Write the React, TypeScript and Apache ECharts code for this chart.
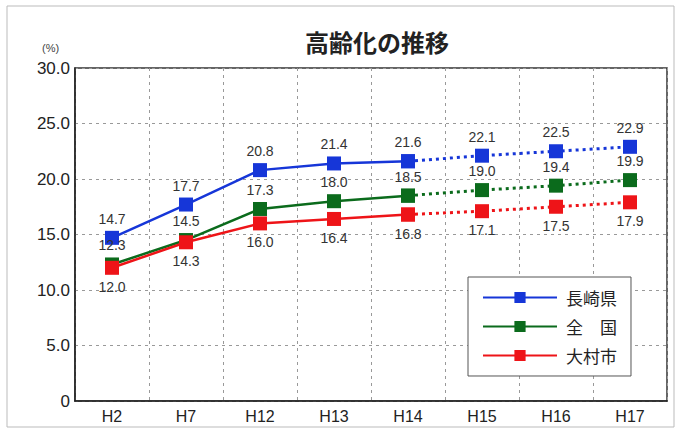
import React, { useEffect, useRef } from "react";
import * as echarts from "echarts";

const categories = ["H2", "H7", "H12", "H13", "H14", "H15", "H16", "H17"];
const nagasaki = [14.7, 17.7, 20.8, 21.4, 21.6, 22.1, 22.5, 22.9];
const zenkoku = [12.3, 14.5, 17.3, 18.0, 18.5, 19.0, 19.4, 19.9];
const omura = [12.0, 14.3, 16.0, 16.4, 16.8, 17.1, 17.5, 17.9];
const yTicks = [0, 5, 10, 15, 20, 25, 30];
const lastActual = 4; // H14

const seriesDefs = [
  { name: "長崎県", data: nagasaki, color: "#1636d8", labelPos: "top" },
  { name: "全　国", data: zenkoku, color: "#0b6b1c", labelPos: "top" },
  { name: "大村市", data: omura, color: "#ee1418", labelPos: "bottom" },
];

export default function App() {
  const ref = useRef<HTMLDivElement>(null);
  useEffect(() => {
    document.body.style.margin = "0";
    const chart = echarts.init(ref.current!, null, { renderer: "svg" });
    const series: any[] = [];
    seriesDefs.forEach((s) => {
      const solid = s.data.map((v, i) => (i <= lastActual ? v : "-"));
      const dotted = s.data.map((v, i) => (i >= lastActual ? v : "-"));
      const label = {
        show: true,
        position: s.labelPos,
        distance: 5,
        color: "#333",
        fontSize: 14,
        fontFamily: "Liberation Sans, Arial, sans-serif",
        formatter: (p: any) => (typeof p.value === "number" ? p.value.toFixed(1) : ""),
      };
      series.push({
        name: s.name,
        type: "line",
        data: solid,
        symbol: "rect",
        symbolSize: 14,
        itemStyle: { color: s.color },
        lineStyle: { color: s.color, width: 2.5 },
        label,
        z: 3,
      });
      series.push({
        name: s.name,
        type: "line",
        data: dotted,
        symbol: "rect",
        symbolSize: 14,
        itemStyle: { color: s.color },
        lineStyle: { color: s.color, width: 3, type: [3, 4] },
        label: {
          ...label,
          formatter: (p: any) =>
            p.dataIndex > lastActual && typeof p.value === "number" ? p.value.toFixed(1) : "",
        },
        z: 2,
      });
    });

    chart.setOption({
      animation: false,
      backgroundColor: "#fff",
      title: {
        text: "高齢化の推移",
        left: 372,
        top: 24,
        textAlign: "center",
        textStyle: {
          fontSize: 24,
          fontWeight: "bold",
          color: "#222",
          fontFamily: "Noto Sans CJK JP, sans-serif",
        },
      },
      graphic: [
        {
          type: "rect",
          shape: { x: 7, y: 6, width: 667, height: 421 },
          style: { fill: "none", stroke: "#bbb", lineWidth: 1 },
          silent: true,
          z: -1,
        },
        {
          type: "text",
          left: 42,
          top: 42,
          style: {
            text: "(%)",
            fontSize: 11,
            fill: "#444",
            fontFamily: "Liberation Sans, Arial, sans-serif",
          },
        },
      ],
      legend: {
        orient: "vertical",
        left: 468,
        top: 277,
        width: 165,
        padding: [12, 14, 12, 14],
        itemGap: 12,
        itemWidth: 74,
        itemHeight: 14,
        backgroundColor: "#fff",
        borderColor: "#555",
        borderWidth: 1,
        data: seriesDefs.map((s) => s.name),
        textStyle: {
          fontSize: 17,
          color: "#222",
          fontFamily: "Noto Sans CJK JP, sans-serif",
          padding: [0, 0, 0, 4],
        },
      },
      grid: {
        left: 75,
        right: 15,
        top: 68,
        bottom: 30,
        show: true,
        borderColor: "#333",
        borderWidth: 1.5,
        containLabel: false,
      },
      xAxis: {
        type: "category",
        data: categories,
        boundaryGap: true,
        axisLine: { lineStyle: { color: "#222", width: 1.5 } },
        axisTick: { show: false },
        axisLabel: {
          color: "#222",
          fontSize: 16,
          margin: 7,
          fontFamily: "Liberation Sans, Arial, sans-serif",
        },
        splitLine: { show: true, lineStyle: { color: "#999", type: [3, 4], width: 1 } },
      },
      yAxis: {
        type: "value",
        min: yTicks[0],
        max: yTicks[yTicks.length - 1],
        interval: 5,
        axisLine: { show: true, lineStyle: { color: "#222", width: 1.5 } },
        axisTick: { show: false },
        axisLabel: {
          color: "#222",
          fontSize: 17,
          margin: 5,
          fontFamily: "Liberation Sans, Arial, sans-serif",
          formatter: (v: number) => (v === 0 ? "0" : v.toFixed(1)),
        },
        splitLine: { show: true, lineStyle: { color: "#999", type: [3, 4], width: 1 } },
      },
      series,
    });
    return () => chart.dispose();
  }, []);
  return (
    <div
      ref={ref}
      style={{ position: "absolute", left: 0, top: 0, width: 682, height: 431 }}
    />
  );
}
